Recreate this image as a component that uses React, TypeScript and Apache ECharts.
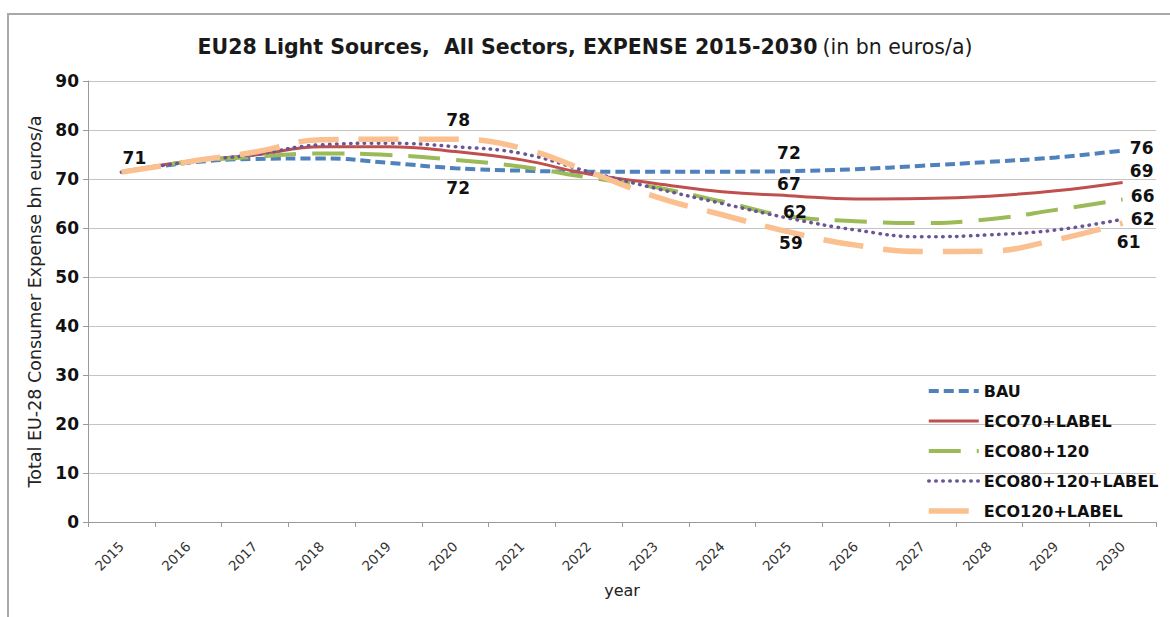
import React, { useEffect, useRef } from "react";
import * as echarts from "echarts";

const years = ["2015","2016","2017","2018","2019","2020","2021","2022","2023","2024","2025","2026","2027","2028","2029","2030"];
const seriesNames = ["BAU", "ECO70+LABEL", "ECO80+120", "ECO80+120+LABEL", "ECO120+LABEL"];
const bau = [71.4, 73.3, 74.1, 74.2, 73.3, 72.2, 71.7, 71.5, 71.5, 71.5, 71.6, 72.0, 72.7, 73.5, 74.4, 75.8];
const eco70Label = [71.4, 73.6, 74.9, 76.6, 76.6, 75.6, 73.9, 71.0, 69.1, 67.4, 66.6, 65.9, 66.0, 66.5, 67.6, 69.3];
const eco80120 = [71.4, 73.5, 74.5, 75.2, 74.9, 73.9, 72.5, 70.3, 68.3, 65.4, 62.4, 61.4, 61.0, 61.8, 63.7, 65.8];
const eco80120Label = [71.4, 73.5, 75.0, 77.0, 77.3, 76.6, 75.2, 71.5, 68.1, 65.0, 62.0, 59.6, 58.2, 58.6, 59.6, 61.8];
const eco120Label = [71.4, 73.5, 75.5, 78.0, 78.1, 78.1, 76.3, 71.5, 66.4, 62.7, 59.2, 56.5, 55.2, 55.3, 57.6, 61.0];
const yTicks = [0, 10, 20, 30, 40, 50, 60, 70, 80, 90];

const seriesValues = [bau, eco70Label, eco80120, eco80120Label, eco120Label];

// annotated points: [seriesIndex, yearIndex, offsetX, offsetY]
const annotations: [number, number, number, number][] = [
  [0, 0, 13, -14],
  [4, 5, 3, -19],
  [0, 5, 3, 20],
  [0, 10, 0, -18],
  [1, 10, 0, -12],
  [2, 10, 6, -4],
  [4, 10, 2, 11],
  [0, 15, 19, -3],
  [1, 15, 19, -11],
  [2, 15, 20, -4],
  [3, 15, 20, 0],
  [4, 15, 6, 19],
];

const styles = [
  { color: "#4F81BD", width: 4, type: [10, 5] as any, cap: "butt" },
  { color: "#C0504D", width: 3, type: "solid" as any, cap: "butt" },
  { color: "#9BBB59", width: 4, type: [32, 16] as any, cap: "butt" },
  { color: "#6A5597", width: 3.5, type: [0.5, 6.5] as any, cap: "round" },
  { color: "#FAC090", width: 5.5, type: [40, 20] as any, cap: "butt" },
];

export default function App() {
  const ref = useRef<HTMLDivElement>(null);
  useEffect(() => {
    if (!ref.current) return;
    const chart = echarts.init(ref.current, null, { renderer: "svg" });
    const font = "DejaVu Sans";
    const series = seriesNames.map((name, si) => {
      const st = styles[si];
      const marks = annotations
        .filter((a) => a[0] === si)
        .map((a) => ({
          coord: [a[1], seriesValues[si][a[1]]],
          value: Math.round(seriesValues[si][a[1]]),
          label: { offset: [a[2], a[3]] },
        }));
      return {
        name,
        type: "line",
        data: seriesValues[si],
        smooth: 0.45,
        showSymbol: false,
        symbol: "none",
        color: st.color,
        lineStyle: { color: st.color, width: st.width, type: st.type, cap: st.cap },
        z: 2 + si,
        markPoint: {
          symbol: "rect",
          symbolSize: 1,
          itemStyle: { color: "rgba(0,0,0,0)" },
          label: {
            show: true,
            position: "inside",
            color: "#111",
            fontFamily: font,
            fontWeight: "bold",
            fontSize: 17,
            formatter: (p: any) => String(p.value),
          },
          data: marks,
          z: 20,
        },
      };
    });
    chart.setOption({
      animation: false,
      backgroundColor: "#ffffff",
      title: {
        left: "center",
        top: 31,
        text: "{b|EU28 Light Sources,  All Sectors, EXPENSE 2015-2030} {n|(in bn euros/a)}",
        textStyle: {
          rich: {
            b: { fontFamily: font, fontWeight: "bold", fontSize: 20.5, color: "#1a1a1a" },
            n: { fontFamily: font, fontWeight: "normal", fontSize: 20.5, color: "#1a1a1a" },
          },
        },
      },
      graphic: [
        {
          type: "rect",
          shape: { x: 8, y: 14, width: 1200, height: 700 },
          style: { fill: "none", stroke: "#a9a9a9", lineWidth: 2 },
          silent: true,
          z: -1,
        },
      ],
      legend: {
        orient: "vertical",
        left: 921,
        top: 378,
        itemWidth: 50,
        itemHeight: 16,
        itemGap: 14,
        data: seriesNames,
        itemStyle: { opacity: 0 },
        lineStyle: { width: "inherit" },
        textStyle: { fontFamily: font, fontWeight: "bold", fontSize: 16, lineHeight: 16, color: "#111" },
      },
      grid: { left: 88, right: 14, top: 81, bottom: 95, containLabel: false },
      xAxis: {
        type: "category",
        data: years,
        boundaryGap: true,
        name: "year",
        nameLocation: "middle",
        nameGap: 60,
        nameTextStyle: { fontFamily: font, fontSize: 16, color: "#222" },
        axisLine: { lineStyle: { color: "#9a9a9a", width: 1 } },
        axisTick: { show: true, length: 5, lineStyle: { color: "#9a9a9a" } },
        axisLabel: { rotate: 45, fontFamily: font, fontSize: 13.5, color: "#333", margin: 22 },
      },
      yAxis: {
        type: "value",
        min: yTicks[0],
        max: yTicks[yTicks.length - 1],
        interval: 10,
        name: "Total EU-28 Consumer Expense bn euros/a",
        nameLocation: "middle",
        nameGap: 43,
        nameTextStyle: { fontFamily: font, fontSize: 17.5, color: "#222" },
        axisLine: { show: true, lineStyle: { color: "#9a9a9a", width: 1 } },
        axisTick: { show: true, length: 5, lineStyle: { color: "#9a9a9a" } },
        axisLabel: { fontFamily: font, fontWeight: "bold", fontSize: 17, color: "#111", margin: 9 },
        splitLine: { lineStyle: { color: "#c4c4c4", width: 1 } },
      },
      series,
    });
    return () => chart.dispose();
  }, []);
  return (
    <div
      ref={ref}
      style={{ position: "absolute", left: 0, top: 0, width: 1170, height: 617, background: "#fff" }}
    />
  );
}
